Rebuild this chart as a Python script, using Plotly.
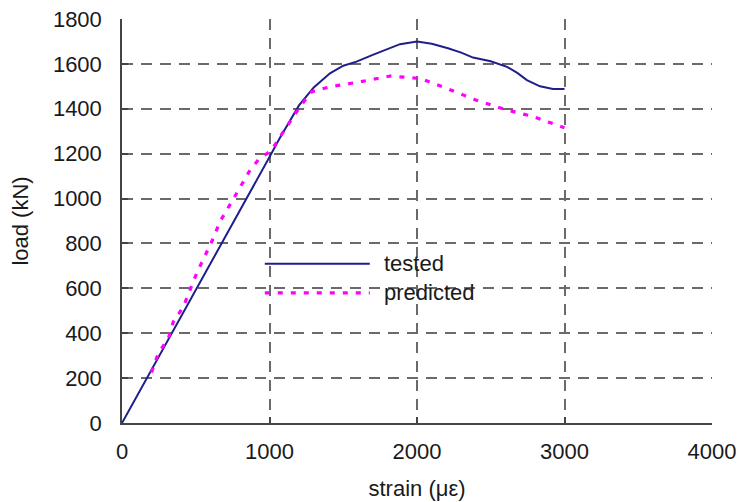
import plotly.graph_objects as go

# ---- data ----
tested_strain = [0, 500, 1000, 1070, 1200, 1300, 1410, 1500, 1590, 1700, 1800, 1885, 2000,
                 2100, 2210, 2300, 2380, 2500, 2610, 2680, 2745, 2834, 2922, 3000]
tested_load = [0, 590, 1185, 1270, 1415, 1495, 1558, 1592, 1610, 1640, 1665, 1688, 1700,
               1690, 1670, 1650, 1628, 1612, 1587, 1560, 1528, 1500, 1488, 1488]

pred_strain = [200, 246, 314, 348, 416, 461, 506, 619, 664, 754, 868, 924, 1015, 1071,
               1207, 1286, 1410, 1614, 1817, 2020, 2201, 2398, 2608, 2789, 2969, 3000]
pred_load = [225, 310, 377, 451, 518, 595, 667, 823, 897, 997, 1127, 1172, 1216, 1275,
             1409, 1476, 1498, 1520, 1546, 1535, 1491, 1439, 1395, 1365, 1320, 1315]

series_names = ["tested", "predicted"]
x_ticks = [0, 1000, 2000, 3000, 4000]
y_ticks = [0, 200, 400, 600, 800, 1000, 1200, 1400, 1600, 1800]

FONT = "Liberation Sans, Arial, sans-serif"
BLUE = "#1f1f8c"
MAGENTA = "#ff00ff"
TXT = "#1a1a1a"

fig = go.Figure()
fig.add_trace(go.Scatter(x=tested_strain, y=tested_load, mode="lines", name=series_names[0],
                         line=dict(color=BLUE, width=2), showlegend=False))
fig.add_trace(go.Scatter(x=pred_strain, y=pred_load, mode="lines", name=series_names[1],
                         line=dict(color=MAGENTA, width=3.2, dash="5px,8px"), showlegend=False))

# manual legend (drawn inside the plot area, like the reference)
leg = [(series_names[0], BLUE, 2, "solid", 0.394), (series_names[1], MAGENTA, 3.2, "5px,8px", 0.322)]
for name, col, w, d, yy in leg:
    fig.add_shape(type="line", xref="paper", yref="paper", x0=0.242, x1=0.420, y0=yy, y1=yy,
                  line=dict(color=col, width=w, dash=d))
    fig.add_annotation(xref="paper", yref="paper", x=0.44, y=yy, text=name, showarrow=False,
                       xanchor="left", yanchor="middle", font=dict(family=FONT, size=22, color=TXT))

grid = dict(showgrid=True, gridcolor="#6a6a6a", gridwidth=1.5, griddash="11px,8px")
fig.update_xaxes(range=[0, 4000], tickvals=x_ticks, ticktext=[str(v) for v in x_ticks],
                 showline=True, linecolor="#444", linewidth=1.5, ticks="inside", ticklen=6,
                 tickcolor="#444", tickwidth=1.5, zeroline=False, ticklabelstandoff=8,
                 automargin=False,
                 tickfont=dict(family=FONT, size=22, color=TXT),
                 title=dict(text="strain (με)", font=dict(family=FONT, size=22, color=TXT), standoff=17),
                 **grid)
fig.update_yaxes(range=[0, 1800], tickvals=y_ticks, ticktext=[str(v) for v in y_ticks],
                 showline=True, linecolor="#444", linewidth=1.5, ticks="inside", ticklen=6,
                 tickcolor="#444", tickwidth=1.5, zeroline=False, ticklabelstandoff=14,
                 automargin=False,
                 tickfont=dict(family=FONT, size=22, color=TXT),
                 title=dict(text="load (kN)", font=dict(family=FONT, size=22, color=TXT), standoff=18),
                 **grid)
fig.update_layout(width=741, height=502, margin=dict(l=122, r=29, t=19, b=79),
                  plot_bgcolor="white", paper_bgcolor="white", showlegend=False)
fig.write_html("out.html")
